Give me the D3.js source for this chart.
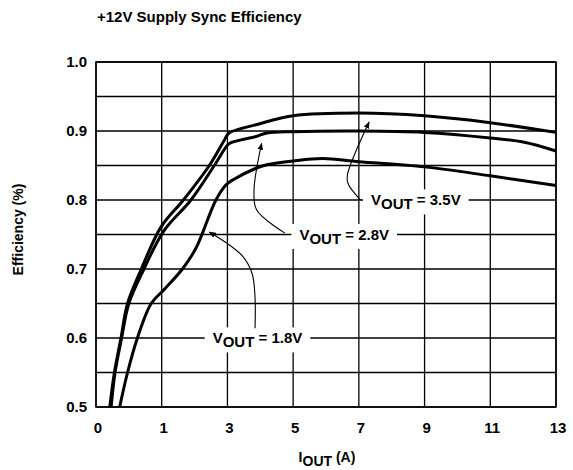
<!DOCTYPE html>
<html>
<head>
<meta charset="utf-8">
<script src="https://cdn.jsdelivr.net/npm/d3@7"></script>
<style>
  body { margin: 0; background: #fff; }
  text { font-family: "Liberation Sans", Arial, sans-serif; font-weight: bold; fill: #000; }
</style>
</head>
<body>
<div id="content"></div>
<script>
// tick values (the x axis is not linear: 0,1,3,5,... evenly spaced)
var xTicks = [0, 1, 3, 5, 7, 9, 11, 13];
var yTicks = [0.5, 0.6, 0.7, 0.8, 0.9, 1.0];
var yGrid = [0.5, 0.55, 0.6, 0.65, 0.7, 0.75, 0.8, 0.85, 0.9, 0.95, 1.0];

// curves (Iout in A, efficiency)
var x35 = [0.21, 0.28, 0.38, 0.48, 0.69, 0.99, 1.66, 2.45, 2.91, 3.05, 3.87, 5.0, 7.0, 9.0, 11.0, 13.0];
var v35 = [0.50, 0.55, 0.60, 0.65, 0.70, 0.761, 0.80, 0.85, 0.887, 0.897, 0.909, 0.922, 0.926, 0.922, 0.912, 0.898];

var x28 = [0.23, 0.29, 0.39, 0.50, 0.73, 1.06, 1.89, 2.60, 2.96, 3.06, 3.87, 4.2, 5.0, 7.0, 9.0, 11.0, 12.0, 13.0];
var v28 = [0.50, 0.55, 0.60, 0.65, 0.70, 0.755, 0.80, 0.85, 0.877, 0.882, 0.892, 0.897, 0.899, 0.90, 0.898, 0.89, 0.884, 0.871];

var x18 = [0.36, 0.48, 0.63, 0.84, 1.07, 1.63, 2.04, 2.65, 2.96, 3.16, 3.87, 4.2, 5.0, 5.9, 7.0, 9.0, 11.0, 13.0];
var v18 = [0.50, 0.55, 0.60, 0.65, 0.67, 0.70, 0.73, 0.80, 0.822, 0.829, 0.846, 0.851, 0.8565, 0.860, 0.8555, 0.848, 0.835, 0.821];

// annotation labels: text start (x, y) and leader path ending in the arrow tip
var labels = [
  { v: "3.5V", at: [7.37, 0.80], leader: [[7.05, 0.80], [6.67, 0.824], [6.65, 0.836], [7.31, 0.913]] },
  { v: "2.8V", at: [5.19, 0.75], leader: [[4.75, 0.752], [3.89, 0.7855], [3.81, 0.8145], [4.04, 0.882]] },
  { v: "1.8V", at: [2.55, 0.60], leader: [[3.84, 0.614], [3.84, 0.659], [3.75, 0.6935], [3.44, 0.7196], [2.45, 0.7536]] }
];

var width = 573, height = 470;
var margin = { top: 62, left: 96 };
var w = 460, h = 345;

var svg = d3.select('#content').append('svg')
  .attr('width', width)
  .attr('height', height);

var defs = svg.append('defs');
defs.append('marker')
  .attr('id', 'arrow')
  .attr('viewBox', '0 0 10 10')
  .attr('refX', 9).attr('refY', 5)
  .attr('markerWidth', 7).attr('markerHeight', 7)
  .attr('markerUnits', 'userSpaceOnUse')
  .attr('orient', 'auto')
  .append('path')
  .attr('d', 'M0,1 L10,5 L0,9 Z')
  .style('fill', '#000');

var g = svg.append('g').attr('transform', 'translate(' + margin.left + ',' + margin.top + ')');

var x = d3.scaleLinear()
  .domain(xTicks)
  .range(xTicks.map(function(d, i) { return i * w / (xTicks.length - 1); }));
var y = d3.scaleLinear().domain([0.5, 1.0]).range([h, 0]);

// grid
g.append('g').selectAll('line')
  .data(xTicks).enter().append('line')
  .attr('x1', d => x(d)).attr('x2', d => x(d))
  .attr('y1', 0).attr('y2', h)
  .style('stroke', '#000').style('stroke-width', 1.3);

g.append('g').selectAll('line')
  .data(yGrid).enter().append('line')
  .attr('x1', 0).attr('x2', w)
  .attr('y1', d => y(d)).attr('y2', d => y(d))
  .style('stroke', '#000').style('stroke-width', 1.3);

g.append('rect')
  .attr('width', w).attr('height', h)
  .style('fill', 'none').style('stroke', '#000').style('stroke-width', 1.5);

// tick labels
g.append('g').selectAll('text')
  .data(yTicks).enter().append('text')
  .attr('x', -9).attr('y', d => y(d))
  .attr('dy', '0.36em')
  .attr('text-anchor', 'end')
  .style('font-size', '15px')
  .text(d => d3.format('.1f')(d));

g.append('g').selectAll('text')
  .data(xTicks).enter().append('text')
  .attr('x', d => x(d) + 2).attr('y', h + 26)
  .attr('text-anchor', 'middle')
  .style('font-size', '15px')
  .text(d => d);

// curves
var line = d3.line()
  .x(d => x(d[0])).y(d => y(d[1]))
  .curve(d3.curveCatmullRom.alpha(0.5));

[[x35, v35], [x28, v28], [x18, v18]].forEach(function(s) {
  g.append('path')
    .datum(d3.zip(s[0], s[1]))
    .attr('d', line)
    .style('fill', 'none').style('stroke', '#000').style('stroke-width', 3)
    .style('stroke-linejoin', 'round');
});

// annotations
var leader = d3.line()
  .x(d => x(d[0])).y(d => y(d[1]))
  .curve(d3.curveCatmullRom);

labels.forEach(function(l) {
  var lg = g.append('g');
  var bg = lg.append('rect').style('fill', '#fff');
  var t = lg.append('text')
    .attr('x', x(l.at[0])).attr('y', y(l.at[1]))
    .attr('dy', '0.36em')
    .style('font-size', '15px');
  t.append('tspan').text('V');
  t.append('tspan').attr('dy', 4).text('OUT');
  t.append('tspan').attr('dy', -4).text(' = ' + l.v);
  var b = t.node().getBBox();
  bg.attr('x', b.x - 8).attr('y', b.y - 2)
    .attr('width', b.width + 16).attr('height', b.height + 4);

  g.append('path')
    .datum(l.leader)
    .attr('d', leader)
    .attr('marker-end', 'url(#arrow)')
    .style('fill', 'none').style('stroke', '#000').style('stroke-width', 1.1);
});

// titles
svg.append('text')
  .attr('x', 97).attr('y', 22)
  .style('font-size', '15px')
  .text('+12V Supply Sync Efficiency');

svg.append('text')
  .attr('transform', 'translate(23,' + (margin.top + h / 2 - 5) + ') rotate(-90)')
  .attr('text-anchor', 'middle')
  .style('font-size', '14px')
  .text('Efficiency (%)');

var xt = svg.append('text')
  .attr('x', margin.left + w / 2 + 1).attr('y', 462)
  .attr('text-anchor', 'middle')
  .style('font-size', '14px');
xt.append('tspan').text('I');
xt.append('tspan').attr('dy', 4).text('OUT');
xt.append('tspan').attr('dy', -4).text(' (A)');
</script>
</body>
</html>
